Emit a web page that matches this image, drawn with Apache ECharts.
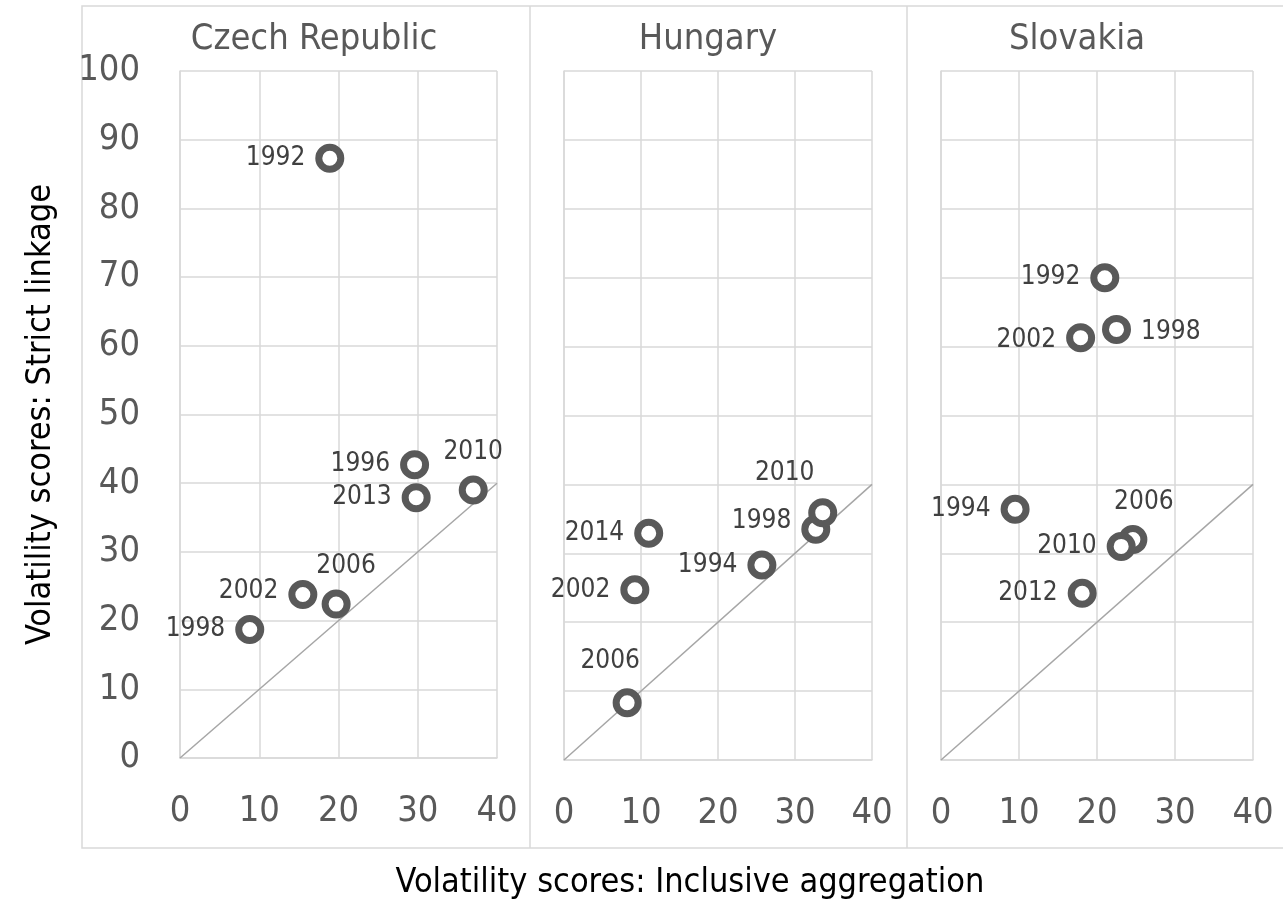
<!DOCTYPE html>
<html>
<head>
<meta charset="utf-8">
<script src="https://cdn.jsdelivr.net/npm/echarts@6/dist/echarts.min.js"></script>
<style>
  html, body { margin: 0; padding: 0; background: #fff; }
  #main { width: 1283px; height: 907px; }
</style>
</head>
<body>
<div id="main"></div>
<script>
// panel data
const panelNames = ['Czech Republic', 'Hungary', 'Slovakia'];

const czechYears = ['1992', '1996', '1998', '2002', '2006', '2010', '2013'];
const czechX = [18.9, 29.6, 8.8, 15.5, 19.7, 37.0, 29.8];
const czechY = [87.3, 42.7, 18.7, 23.8, 22.4, 39.0, 37.9];

const hungaryYears = ['1994', '1998', '2002', '2006', '2010', '2014'];
const hungaryX = [25.7, 32.7, 9.2, 8.2, 33.6, 11.0];
const hungaryY = [28.3, 33.5, 24.7, 8.3, 35.9, 32.9];

const slovakiaYears = ['1992', '1994', '1998', '2002', '2006', '2010', '2012'];
const slovakiaX = [21.0, 9.5, 22.5, 17.9, 24.6, 23.1, 18.1];
const slovakiaY = [70.0, 36.4, 62.5, 61.3, 32.0, 31.0, 24.2];

// reference line (equal scores)
const diagX = [0, 40];
const diagY = [0, 40];

const xTicks = [0, 10, 20, 30, 40];
const yTicks = [0, 10, 20, 30, 40, 50, 60, 70, 80, 90, 100];

// label placement per point (style only)
const czechLabelPos = ['left', 'left', 'left', 'left', 'top', 'top', 'left'];
const czechLabelOff = [[0, 0], [0, 0], [0, 0], [0, -3], [10, 0], [0, 0], [0, 0]];
const hungaryLabelPos = ['left', 'left', 'left', 'top', 'top', 'left'];
const hungaryLabelOff = [[0, 0], [0, -8], [0, 0], [-17, -4], [-38, -2], [0, 0]];
const slovakiaLabelPos = ['left', 'left', 'right', 'left', 'top', 'left', 'left'];
const slovakiaLabelOff = [[0, 0], [0, 0], [0, 3], [0, 3], [11, 0], [0, 0], [0, 0]];

const FONT = '"Liberation Sans Narrow", "DejaVu Sans Condensed", "Open Sans", sans-serif';
const TEXT = '#595959';
const GRIDLINE = '#d9d9d9';

const grids = [
  { left: 180, top: 71, width: 317, height: 687 },
  { left: 564, top: 71, width: 308, height: 689 },
  { left: 941, top: 71, width: 312, height: 689 }
];

function buildPoints(years, xs, ys, pos, off) {
  return years.map(function (yr, i) {
    return {
      value: [xs[i], ys[i]],
      name: yr,
      label: { position: pos[i], offset: off[i] }
    };
  });
}

const panels = [
  buildPoints(czechYears, czechX, czechY, czechLabelPos, czechLabelOff),
  buildPoints(hungaryYears, hungaryX, hungaryY, hungaryLabelPos, hungaryLabelOff),
  buildPoints(slovakiaYears, slovakiaX, slovakiaY, slovakiaLabelPos, slovakiaLabelOff)
];

const chart = echarts.init(document.getElementById('main'), null, { renderer: 'canvas' });

const xAxes = grids.map(function (g, i) {
  return {
    type: 'value',
    gridIndex: i,
    min: 0,
    max: 40,
    interval: 10,
    axisLine: { show: true, lineStyle: { color: GRIDLINE, width: 1.5 } },
    axisTick: { show: false },
    splitLine: { show: true, lineStyle: { color: GRIDLINE, width: 1.5 } },
    axisLabel: {
      color: TEXT, fontFamily: FONT, fontSize: 36, margin: 36,
      formatter: function (v) { return xTicks.indexOf(v) >= 0 ? String(v) : ''; }
    }
  };
});

const yAxes = grids.map(function (g, i) {
  return {
    type: 'value',
    gridIndex: i,
    min: 0,
    max: 100,
    interval: 10,
    name: i === 0 ? 'Volatility scores: Strict linkage' : '',
    nameLocation: 'middle',
    nameGap: 122,
    nameTextStyle: { color: '#000', fontFamily: FONT, fontSize: 34 },
    axisLine: { show: true, lineStyle: { color: GRIDLINE, width: 1.5 } },
    axisTick: { show: false },
    splitLine: { show: true, lineStyle: { color: GRIDLINE, width: 1.5 } },
    axisLabel: {
      show: i === 0,
      color: TEXT, fontFamily: FONT, fontSize: 36, margin: 40,
      formatter: function (v) { return yTicks.indexOf(v) >= 0 ? String(v) : ''; }
    }
  };
});

const series = [];
panels.forEach(function (pts, i) {
  series.push({
    type: 'line',
    xAxisIndex: i,
    yAxisIndex: i,
    data: diagX.map(function (x, k) { return [x, diagY[k]]; }),
    showSymbol: false,
    silent: true,
    z: 1,
    lineStyle: { color: '#a6a6a6', width: 1.5 }
  });
  series.push({
    type: 'scatter',
    xAxisIndex: i,
    yAxisIndex: i,
    data: pts,
    symbol: 'circle',
    symbolSize: 22,
    z: 3,
    itemStyle: { color: '#fff', borderColor: '#595959', borderWidth: 7, opacity: 1 },
    label: {
      show: true,
      formatter: '{b}',
      color: '#404040',
      fontFamily: FONT,
      fontSize: 26,
      distance: 10
    }
  });
});

const titleCenters = [309, 703, 1072];

const option = {
  backgroundColor: '#fff',
  animation: false,
  title: panelNames.map(function (n, i) {
    return {
      text: n,
      left: titleCenters[i],
      top: 17,
      textAlign: 'center',
      textStyle: { color: TEXT, fontFamily: FONT, fontSize: 36, fontWeight: 'normal' }
    };
  }).concat([{
    text: 'Volatility scores: Inclusive aggregation',
    left: 685,
    top: 861,
    textAlign: 'center',
    textStyle: { color: '#000', fontFamily: FONT, fontSize: 34, fontWeight: 'normal' }
  }]),
  graphic: [
    { type: 'rect', shape: { x: 82, y: 6, width: 1210, height: 842 }, style: { fill: null, stroke: GRIDLINE, lineWidth: 1.5 }, silent: true },
    { type: 'line', shape: { x1: 530, y1: 6, x2: 530, y2: 848 }, style: { stroke: GRIDLINE, lineWidth: 1.5 }, silent: true },
    { type: 'line', shape: { x1: 907, y1: 6, x2: 907, y2: 848 }, style: { stroke: GRIDLINE, lineWidth: 1.5 }, silent: true }
  ],
  grid: grids,
  xAxis: xAxes,
  yAxis: yAxes,
  series: series
};

chart.setOption(option);
</script>
</body>
</html>
